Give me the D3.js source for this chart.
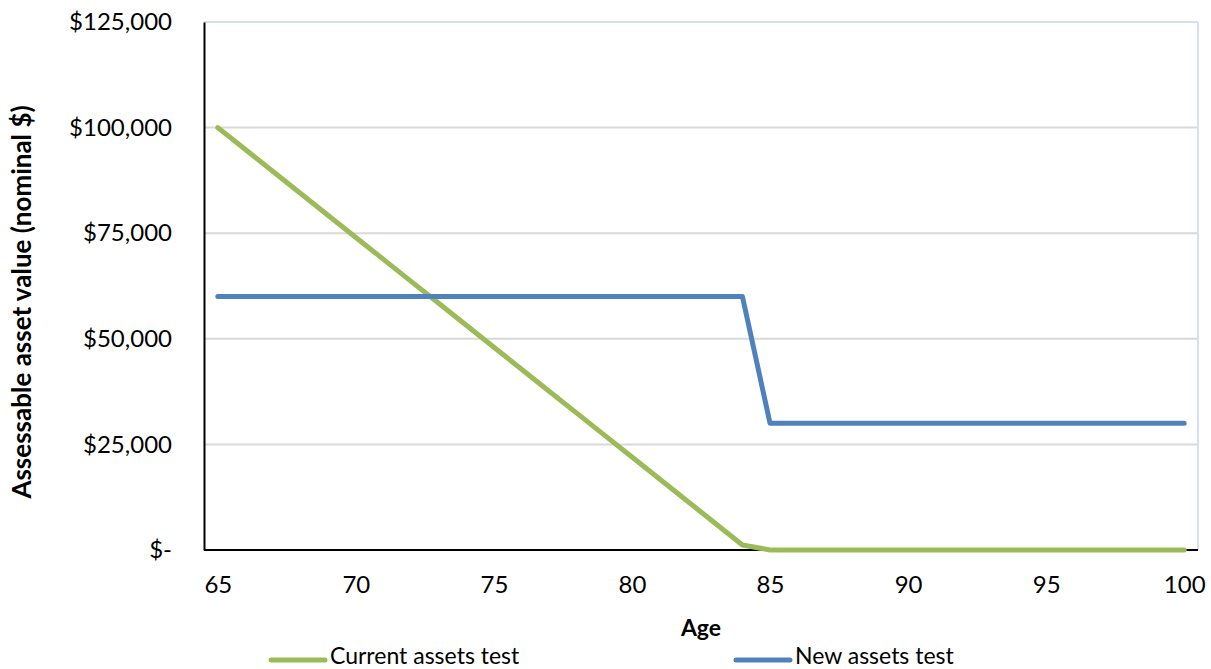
<!DOCTYPE html>
<html><head><meta charset="utf-8">
<script src="https://cdn.jsdelivr.net/npm/d3@7"></script>
<style>body{margin:0;background:#fff}svg{display:block}text{font-family:Lato,"Open Sans",sans-serif;fill:#000}</style>
</head><body>
<svg id="c" width="1211" height="669"></svg>
<script>
const ages = [65,66,67,68,69,70,71,72,73,74,75,76,77,78,79,80,81,82,83,84,85,86,87,88,89,90,91,92,93,94,95,96,97,98,99,100];
const currentTest = [100000,94800,89600,84400,79200,74000,68800,63600,58400,53200,48000,42800,37600,32400,27200,22000,16800,11600,6400,1200,0,0,0,0,0,0,0,0,0,0,0,0,0,0,0,0];
const newTest = [60000,60000,60000,60000,60000,60000,60000,60000,60000,60000,60000,60000,60000,60000,60000,60000,60000,60000,60000,60000,30000,30000,30000,30000,30000,30000,30000,30000,30000,30000,30000,30000,30000,30000,30000,30000];
const yTicks = [0,25000,50000,75000,100000,125000];
const xTickLabels = [65,70,75,80,85,90,95,100];
const seriesNames = ["Current assets test","New assets test"];
const colors = ["#9BBB59","#4F81BD"];

const svg = d3.select("#c");
const L=204, R=1198, T=22, B=550;
const x = d3.scalePoint().domain(ages).range([L,R]).padding(0.5);
const y = d3.scaleLinear().domain([0,125000]).range([B,T]);
const fmt = v => v===0 ? "$-" : "$" + d3.format(",")(v);

// gridlines
svg.append("g").selectAll("line").data(yTicks.filter(d=>d>0)).join("line")
  .attr("x1",L).attr("x2",R).attr("y1",d=>y(d)).attr("y2",d=>y(d))
  .attr("stroke",d=>d===125000?"#D6DFEE":"#D9D9D9").attr("stroke-width",2);
// right border
svg.append("line").attr("x1",R).attr("x2",R).attr("y1",T).attr("y2",B).attr("stroke","#D6DFEE").attr("stroke-width",2);

// y axis
const ya = svg.append("g").attr("transform",`translate(${L},0)`)
  .call(d3.axisLeft(y).tickValues(yTicks).tickFormat(fmt).tickSize(0).tickPadding(32));
ya.select(".domain").attr("stroke","#000").attr("stroke-width",2);
ya.selectAll("text").style("font-size","24px").style("font-family","Lato");

// x axis
const xa = svg.append("g").attr("transform",`translate(0,${B})`)
  .call(d3.axisBottom(x).tickValues(xTickLabels).tickSize(0).tickPadding(26));
xa.select(".domain").attr("stroke","#000").attr("stroke-width",2).attr("d",`M${L},0H${R}`);
xa.selectAll("text").style("font-size","24px").style("font-family","Lato");

// lines
const line = d3.line().x((d,i)=>x(ages[i])).y(d=>y(d));
[currentTest,newTest].forEach((s,k)=>{
  svg.append("path").datum(s).attr("d",line).attr("fill","none")
    .attr("stroke",colors[k]).attr("stroke-width",5).attr("stroke-linejoin","round").attr("stroke-linecap","round");
});

// axis titles
svg.append("text").attr("x",701).attr("y",636).attr("text-anchor","middle")
  .style("font-size","23px").style("font-weight","bold").text("Age");
svg.append("text").attr("transform","translate(31,302) rotate(-90)").attr("text-anchor","middle")
  .style("font-size","26px").style("font-weight","bold").text("Assessable asset value (nominal $)");

// legend
const legX = [271,736];
seriesNames.forEach((n,k)=>{
  const g = svg.append("g").attr("transform",`translate(${legX[k]},660)`);
  g.append("line").attr("x1",0).attr("x2",54).attr("y1",0).attr("y2",0)
    .attr("stroke",colors[k]).attr("stroke-width",5).attr("stroke-linecap","round");
  g.append("text").attr("x",59).attr("y",4).style("font-size","23px").text(n);
});
</script>
</body></html>
